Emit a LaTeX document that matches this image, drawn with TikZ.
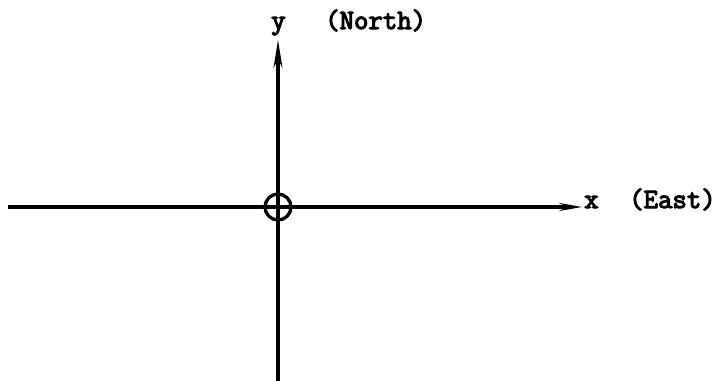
\documentclass[tikz,border=0pt]{standalone}
\usepackage{fontspec}
\newfontfamily\lblfont[FakeBold=4]{Latin Modern Mono}
\usetikzlibrary{arrows.meta}
\tikzset{
  axis/.style={line width=3.3pt},
  lbl/.style={font=\lblfont\fontsize{28}{28}\selectfont, inner sep=0pt},
}
\begin{document}
\begin{tikzpicture}[x=1pt,y=-1pt]
\useasboundingbox (0,0) rectangle (719,380);
\coordinate (W) at (8,207);
\coordinate (E) at (583,207);
\coordinate (S) at (278,381);
\coordinate (N) at (278,40);
\node[circle, draw, line width=3.3pt, minimum size=26pt, inner sep=0pt] (O) at (278,207) {};
\draw[axis] (W) -- (O.west);
\draw[axis, -{Stealth[length=22pt,width=7pt]}] (O.east) -- (E);
\draw[axis] (S) -- (O.south);
\draw[axis, -{Stealth[length=28pt,width=9pt]}] (O.north) -- (N);
\draw[axis] (O.west) -- (O.east);
\draw[axis] (O.north) -- (O.south);
\node[lbl, anchor=base west] (xl) at (584,208) {x};
\node[lbl, anchor=base west] (east) at (629,208) {(East)};
\node[lbl, anchor=base west] (yl) at (271,29) {y};
\node[lbl, anchor=base west] (north) at (325,29) {(North)};
\end{tikzpicture}
\end{document}
